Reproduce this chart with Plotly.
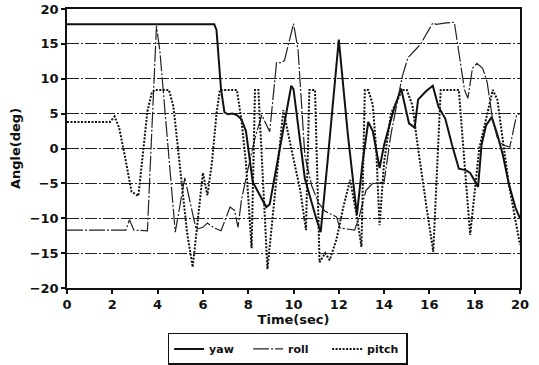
import plotly.graph_objects as go

# ---- data ----
yaw_t = [0, 6.5, 6.6, 6.8, 6.95, 7.1, 7.3, 7.5, 7.7, 7.9, 8.2, 8.8, 8.95, 9.4, 9.9, 10.0,
         10.5, 11.0, 11.2, 11.5, 12.0, 12.4, 12.8, 13.05, 13.3, 13.5, 13.8, 14.0, 14.4, 14.75,
         15.1, 15.35, 15.5, 15.85, 16.15, 16.4, 16.7, 17.0, 17.3, 17.6, 17.8, 18.15, 18.3,
         18.5, 18.75, 19.0, 19.25, 19.5, 19.8, 20.0]
yaw_v = [17.8, 17.8, 17.0, 8.5, 5.2, 4.9, 5.0, 4.8, 4.2, 2.5, -4.8, -8.4, -8.0, -0.2, 9.0, 8.5,
         -4.3, -10.0, -12.0, -2.0, 15.6, 2.0, -9.5, -2.0, 3.8, 2.5, -2.8, 0.5, 5.3, 8.6,
         3.6, 3.0, 7.0, 8.2, 9.0, 6.0, 4.3, 0.5, -2.9, -3.1, -3.5, -5.5, 0.5,
         3.3, 4.5, 2.0, -1.0, -5.0, -8.5, -10.0]

roll_t = [0, 2.6, 2.76, 2.95, 3.55, 3.95, 4.1, 4.45, 4.78, 5.2, 5.7, 6.0, 6.2, 6.5, 6.8, 7.2,
          7.4, 7.55, 7.7, 7.98, 8.3, 8.6, 8.95, 9.25, 9.45, 9.6, 10.0, 10.2, 10.5, 10.8, 11.1,
          11.4, 11.9, 12.05, 12.7, 12.9, 13.2, 13.5, 14.0, 14.3, 14.6, 14.8, 15.05, 15.6, 16.15,
          16.3, 16.75, 17.1, 17.35, 17.55, 17.7, 17.9, 18.1, 18.35, 18.55, 18.65, 18.8, 19.0,
          19.25, 19.55, 19.85, 20.0]
roll_v = [-11.7, -11.7, -10.2, -11.7, -11.8, 17.6, 14.0, 0.0, -12.0, -4.2, -11.6, -11.3, -10.7,
          -11.4, -11.8, -8.4, -8.9, -11.3, -7.4, -3.1, 1.5, 4.8, 2.4, 12.3, 12.3, 12.6, 17.9,
          14.2, -1.0, -5.3, -7.8, -9.0, -9.8, -11.4, -11.7, -9.8, -6.0, -5.0, -4.8, 2.0, 7.0,
          10.3, 13.0, 14.9, 18.0, 17.8, 18.0, 18.1, 12.7, 8.4, 7.2, 11.5, 12.2, 11.5, 9.5, 7.0,
          4.0, 1.5, 0.5, 0.2, 4.8, 5.0]

pitch_t = [0, 1.9, 2.1, 2.3, 2.55, 2.85, 3.15, 3.35, 3.55, 3.75, 3.9, 4.5, 4.7, 5.0, 5.3, 5.55,
           5.8, 6.0, 6.2, 6.4, 6.6, 6.75, 7.5, 7.7, 7.9, 8.15, 8.3, 8.45, 8.85, 9.3, 9.55, 9.9,
           10.3, 10.55, 10.7, 10.95, 11.15, 11.4, 11.6, 11.9, 12.2, 12.5, 12.8, 13.0, 13.15,
           13.3, 13.5, 13.65, 13.8, 14.0, 14.3, 14.8, 15.0, 15.25, 15.5, 15.9, 16.17, 16.5,
           17.3, 17.5, 17.8, 18.2, 18.8, 19.0, 19.5, 20.0]
pitch_v = [3.8, 3.8, 4.6, 3.0, -1.0, -6.2, -6.8, -0.5, 5.3, 8.1, 8.4, 8.4, 6.0, -3.0, -12.0,
           -17.0, -10.0, -3.5, -6.7, -2.0, 5.0, 8.4, 8.4, 4.1, -2.0, -14.3, 8.4, 8.4, -17.3,
           -2.0, 5.5, 0.0, -6.0, -11.7, 8.4, 8.4, -16.3, -15.0, -16.0, -13.0, -8.4, -4.5,
           -9.8, -14.1, 8.4, 8.4, 6.3, 0.0, -11.0, -2.0, 5.0, 8.4, 8.4, 6.2, 0.0, -9.0, -14.8,
           8.4, 8.4, 0.0, -12.4, 0.0, 8.4, 7.0, -5.0, -13.8]

x_ticks = list(range(0, 21, 2))
y_ticks = list(range(-20, 21, 5))

FONT = "DejaVu Sans"

fig = go.Figure()
fig.add_trace(go.Scatter(x=yaw_t, y=yaw_v, mode="lines", name="yaw",
                         line=dict(color="#111", width=2)))
fig.add_trace(go.Scatter(x=roll_t, y=roll_v, mode="lines", name="roll",
                         line=dict(color="#222", width=1.2, dash="16px,2px,2px,2px")))
fig.add_trace(go.Scatter(x=pitch_t, y=pitch_v, mode="lines", name="pitch",
                         line=dict(color="#111", width=2, dash="2px,1.5px")))

fig.update_layout(
    width=539, height=365,
    margin=dict(l=67, r=19, t=9, b=77),
    paper_bgcolor="white", plot_bgcolor="white",
    font=dict(family=FONT, color="#111", size=13),
    showlegend=True,
    legend=dict(orientation="h", x=0.487, xanchor="center",
                yref="container", y=0.088, yanchor="top",
                bordercolor="#111", borderwidth=1.5,
                font=dict(family=FONT, size=11, weight="bold"),
                itemwidth=30, tracegroupgap=0, entrywidth=34, entrywidthmode="pixels"),
)
fig.update_xaxes(range=[0, 20], tickvals=x_ticks, ticks="outside", ticklen=4,
                 tickcolor="#111", tickwidth=1.5, automargin=False,
                 showline=True, linecolor="#111", linewidth=1.5, mirror=True,
                 showgrid=False, zeroline=False,
                 tickfont=dict(family=FONT, size=13, weight="bold"),
                 title=dict(text="Time(sec)", font=dict(family=FONT, size=13, weight="bold"),
                            standoff=1))
fig.update_yaxes(range=[-20, 20], tickvals=y_ticks, ticks="outside", ticklen=4,
                 tickcolor="#111", tickwidth=1.5, automargin=False,
                 showline=True, linecolor="#111", linewidth=1.5, mirror=True,
                 showgrid=True, gridcolor="#222", gridwidth=1, griddash="12px,2px,2px,2px",
                 zeroline=False,
                 tickfont=dict(family=FONT, size=13, weight="bold"),
                 title=dict(text="Angle(deg)", font=dict(family=FONT, size=13, weight="bold"),
                            standoff=6))

fig.write_html("out.html")
